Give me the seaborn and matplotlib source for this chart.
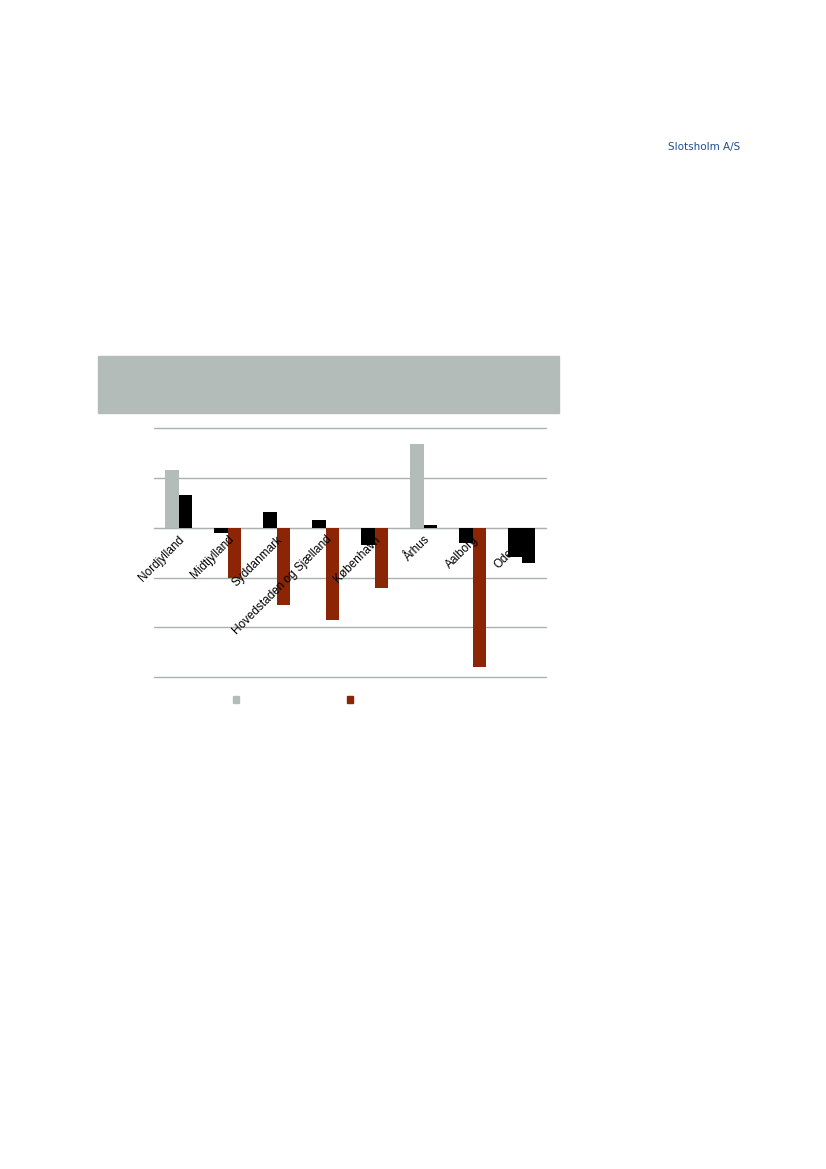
import numpy as np
import pandas as pd
import matplotlib
matplotlib.use('Agg')
import matplotlib.pyplot as plt
import matplotlib.patches as mpatches
import seaborn as sns

# data (1 unit = one gridline step)
regions = ['Nordjylland', 'Midtjylland', 'Syddanmark', 'Hovedstaden og Sjælland',
           'København', 'Århus', 'Aalborg', 'Odense']
left_vals = [1.17, -0.10, 0.32, 0.16, -0.35, 1.69, -0.31, -0.58]
right_vals = [0.66, -1.01, -1.55, -1.85, -1.21, 0.05, -2.79, -0.70]

GRAY = '#b3bcb8'
RED = '#8b2506'
BLACK = '#000000'
left_colors = [GRAY, BLACK, BLACK, BLACK, BLACK, GRAY, BLACK, BLACK]
right_colors = [BLACK, RED, RED, RED, RED, BLACK, RED, BLACK]

df = pd.DataFrame({
    'region': regions * 2,
    'value': left_vals + right_vals,
    'serie': ['a'] * len(regions) + ['b'] * len(regions),
})

sns.set_style('white')
plt.rcParams['font.family'] = ['Liberation Sans', 'DejaVu Sans']

fig = plt.figure(figsize=(8.26, 11.69), dpi=100)

# grey header box above the chart
fig.patches.append(mpatches.Rectangle((98 / 826, 1 - 413 / 1169), 461 / 826, 57 / 1169,
                                      transform=fig.transFigure, color=GRAY, zorder=0))
fig.text(668 / 826, 1 - 147 / 1169, 'Slotsholm A/S', color='#1f4e8c', fontsize=7.5,
         family='DejaVu Sans', va='center', ha='left')

ax = fig.add_axes([154 / 826, 1 - 677.3 / 1169, 392 / 826, 249 / 1169])
sns.barplot(data=df, x='region', y='value', hue='serie', order=regions,
            hue_order=['a', 'b'], width=0.57, dodge=True, ax=ax,
            legend=False, saturation=1)

for cont, cols in zip(ax.containers, [left_colors, right_colors]):
    for bar, c in zip(cont, cols):
        bar.set_facecolor(c)
        bar.set_edgecolor('none')
        bar.set_zorder(1)

ax.set_ylim(-3, 2)
ax.set_xlim(-0.5, len(regions) - 0.5)
ax.set_yticks([])
# gridlines drawn by hand so the tick labels can stay on top of the bars
for y in range(-3, 3):
    ax.axhline(y, color='#a9b2ae', lw=1, zorder=0.5, clip_on=False)
ax.set_axisbelow(False)
for s in ['top', 'right', 'left']:
    ax.spines[s].set_visible(False)
ax.spines['bottom'].set_position(('data', 0))
ax.spines['bottom'].set_color('#a9b2ae')
ax.spines['bottom'].set_zorder(0.6)
ax.tick_params(axis='x', which='major', length=0, pad=4)
ax.set_xticks(np.arange(-0.5, len(regions), 1), minor=True)
ax.tick_params(axis='x', which='minor', length=3, color='#a9b2ae', direction='out')
ax.set_xticks(range(len(regions)))
ax.set_xticklabels(regions, rotation=45, ha='right', va='top',
                   rotation_mode='anchor', fontsize=8.5, color='black')
ax.set_xlabel('')
ax.set_ylabel('')

handles = [mpatches.Patch(color=GRAY), mpatches.Patch(color=RED)]
fig.legend(handles, ['', ''], ncol=2, frameon=False, fontsize=8.5,
           handlelength=0.5, handleheight=0.5, handletextpad=0.0,
           columnspacing=9.1, loc='center',
           bbox_to_anchor=(293 / 826, 1 - 700.5 / 1169))

fig.savefig('out.png', dpi=100, facecolor='white')
